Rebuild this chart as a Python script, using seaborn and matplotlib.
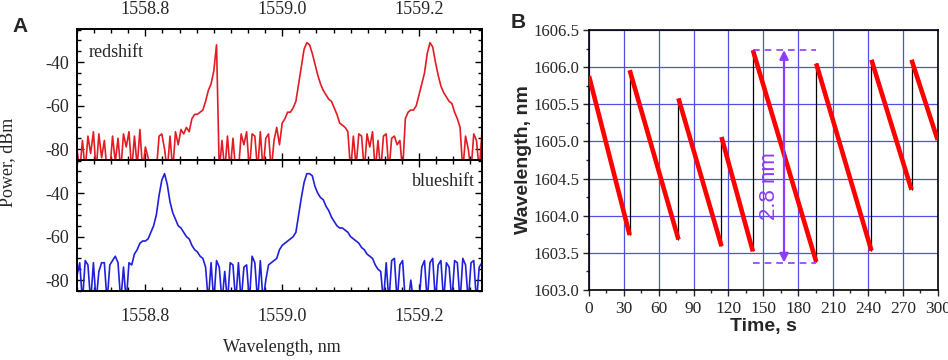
import numpy as np
import pandas as pd
import matplotlib
matplotlib.use("Agg")
import matplotlib.pyplot as plt
import seaborn as sns
from matplotlib.ticker import MultipleLocator, FuncFormatter

# --- panel A: optical spectra (sampled every 0.004 nm from 1558.700 nm) ---
wl_start = 1558.700
wl_step = 0.004
# values below -85 dBm fall under the axis (noise spikes)
red_power = [
    -80, -90, -76, -90, -74, -82, -72, -90, -73, -84,
    -76, -90, -90, -74, -86, -75, -90, -73, -79, -72,
    -90, -74, -88, -71, -90, -79, -84, -90, -90, -90,
    -74, -73, -80, -90, -74, -90, -72, -78, -71, -73,
    -70, -72, -66, -64, -64, -63, -62, -58, -53, -50,
    -44, -32, -90, -76, -90, -74, -90, -75, -90, -90,
    -73, -78, -72, -90, -73, -74, -90, -72, -90, -75,
    -73, -90, -76, -70, -78, -68, -66, -63, -63, -61,
    -58, -50, -42, -34, -31, -32, -36, -41, -46, -50,
    -53, -55, -57, -58, -61, -64, -68, -69, -70, -72,
    -90, -74, -88, -73, -74, -90, -73, -79, -72, -90,
    -76, -90, -74, -73, -90, -75, -74, -78, -76, -90,
    -66, -63, -62, -62, -60, -55, -50, -45, -36, -31,
    -33, -40, -46, -51, -54, -56, -58, -59, -63, -66,
    -70, -90, -74, -80, -90, -73, -76, -90, -72, -74,
]
blue_power = [
    -78, -72, -90, -71, -73, -90, -72, -90, -76, -72,
    -72, -90, -73, -71, -69, -72, -90, -74, -90, -72,
    -73, -68, -66, -63, -62, -62, -61, -58, -55, -50,
    -41, -34, -31, -36, -44, -49, -52, -55, -56, -58,
    -60, -61, -64, -66, -67, -69, -70, -74, -90, -72,
    -90, -71, -74, -90, -76, -90, -72, -73, -90, -72,
    -90, -74, -73, -90, -69, -72, -90, -71, -90, -80,
    -73, -72, -71, -70, -66, -64, -63, -62, -61, -60,
    -58, -50, -42, -35, -31, -31, -32, -37, -40, -42,
    -43, -46, -48, -51, -53, -55, -56, -56, -57, -58,
    -60, -61, -62, -63, -65, -66, -68, -69, -70, -73,
    -75, -76, -90, -72, -90, -71, -70, -90, -73, -71,
    -90, -90, -80, -90, -90, -90, -74, -71, -90, -72,
    -70, -90, -73, -71, -90, -72, -74, -90, -71, -72,
    -90, -70, -73, -90, -72, -71, -90, -74, -72, -90,
]
a_xticks = [1558.8, 1559.0, 1559.2]
a_yticks = [-80, -60, -40]

# --- panel B: wavelength sweep segments ---
seg_t_start = [0, 35, 77, 114, 141, 195.5, 243, 277.5]
seg_t_end = [35, 77, 114, 141, 195.5, 243, 277.5, 300]
seg_wl_start = [1605.88, 1605.96, 1605.58, 1605.06, 1606.23, 1606.05, 1606.10, 1606.10]
seg_wl_end = [1603.74, 1603.68, 1603.59, 1603.52, 1603.38, 1603.53, 1604.35, 1605.02]
span_top = 1606.23
span_bottom = 1603.37
span_time = 167.8
span_label = "2.8 nm"

sns.set_style("ticks")
plt.rcParams['font.family'] = ['Liberation Serif', 'DejaVu Serif']
plt.rcParams['axes.unicode_minus'] = False

RED_A = '#e31b23'
BLUE_A = '#2020dc'
VIOLET = '#8c3cff'
GRID = '#5050e0'

fig = plt.figure(figsize=(9.48, 3.6), dpi=100)
ax_top = fig.add_axes([0.0812, 0.5556, 0.4272, 0.3639])
ax_bot = fig.add_axes([0.0812, 0.1917, 0.4272, 0.3639])
ax_b = fig.add_axes([0.6213, 0.1944, 0.3678, 0.7222])

# spectra
n = len(red_power)
wavelength = [round(wl_start + wl_step * i, 3) for i in range(n)]
spec = pd.DataFrame({'wavelength': wavelength, 'red': red_power, 'blue': blue_power})

sns.lineplot(data=spec, x='wavelength', y='red', ax=ax_top, color=RED_A,
             lw=1.2, estimator=None, sort=False)
sns.lineplot(data=spec, x='wavelength', y='blue', ax=ax_bot, color=BLUE_A,
             lw=1.2, estimator=None, sort=False)

fmt_int = FuncFormatter(lambda v, p: f"{v:.0f}")
for ax in (ax_top, ax_bot):
    ax.set_xlim(1558.700, 1559.292)
    ax.set_ylim(-85, -24.7)
    ax.set_xticks(a_xticks)
    ax.xaxis.set_major_formatter(FuncFormatter(lambda v, p: f"{v:.1f}"))
    ax.xaxis.set_minor_locator(MultipleLocator(0.025))
    ax.set_yticks(a_yticks)
    ax.yaxis.set_major_formatter(fmt_int)
    ax.yaxis.set_minor_locator(MultipleLocator(5))
    ax.tick_params(which='both', direction='in', top=True, right=True,
                   labelsize=13, width=1.0, color='black')
    ax.tick_params(which='major', length=5)
    ax.tick_params(which='minor', length=3)
    ax.tick_params(axis='y', pad=6)
    ax.set_xlabel('')
    ax.set_ylabel('')
    for sp in ax.spines.values():
        sp.set_linewidth(1.4)
        sp.set_color('black')
ax_top.tick_params(axis='x', labelbottom=False, labeltop=True, pad=8)
ax_bot.tick_params(axis='x', labelbottom=True, labeltop=False, pad=12)

ax_top.text(0.03, 0.824, 'redshift', transform=ax_top.transAxes,
            fontsize=13, ha='left', va='center')
ax_bot.text(0.983, 0.832, 'blueshift', transform=ax_bot.transAxes,
            fontsize=13, ha='right', va='center')

fig.text(8 / 948, 1 - 162 / 360, 'Power, dBm', rotation=90, fontsize=13,
         ha='center', va='center')
fig.text(282 / 948, 1 - 348 / 360, 'Wavelength, nm', fontsize=13,
         ha='center', va='center')

# sawtooth
rows = []
for k in range(len(seg_t_start)):
    rows.append({'time': seg_t_start[k], 'wl': seg_wl_start[k], 'seg': k})
    rows.append({'time': seg_t_end[k], 'wl': seg_wl_end[k], 'seg': k})
saw = pd.DataFrame(rows)

ax_b.set_axisbelow(True)
ax_b.grid(True, which='major', color=GRID, lw=0.9)
ax_b.vlines(seg_t_end[:-1], seg_wl_end[:-1], seg_wl_start[1:], color='black',
            lw=0.9, zorder=2)
sns.lineplot(data=saw, x='time', y='wl', units='seg', estimator=None, sort=False,
             color='#ff0000', lw=3.3, ax=ax_b, zorder=3, solid_capstyle='butt')

ax_b.hlines([span_top, span_bottom], seg_t_start[4], seg_t_end[4], color=VIOLET,
            lw=1.2, linestyles=(0, (4, 3)), zorder=4)
ax_b.annotate('', xy=(span_time, span_top), xytext=(span_time, span_bottom),
              arrowprops=dict(arrowstyle='<|-|>', color=VIOLET, lw=1.6,
                              mutation_scale=13, shrinkA=0, shrinkB=0), zorder=5)
ax_b.text(155.7, 1604.40, span_label, rotation=90, color=VIOLET, fontsize=16,
          family=['Liberation Sans', 'DejaVu Sans'], ha='center', va='center')

ax_b.set_xlim(0, 300)
ax_b.set_ylim(1603.0, 1606.5)
ax_b.xaxis.set_major_locator(MultipleLocator(30))
ax_b.xaxis.set_minor_locator(MultipleLocator(15))
ax_b.yaxis.set_major_locator(MultipleLocator(0.5))
ax_b.yaxis.set_minor_locator(MultipleLocator(0.25))
ax_b.yaxis.set_major_formatter(FuncFormatter(lambda v, p: f"{v:.1f}"))
ax_b.tick_params(which='both', direction='out', labelsize=12.5, width=1.0)
ax_b.tick_params(axis='y', labelsize=12)
ax_b.tick_params(which='major', length=4)
ax_b.tick_params(which='minor', length=2.5)
ax_b.tick_params(axis='y', pad=3)
ax_b.tick_params(axis='x', pad=4)
ax_b.set_xlabel('')
ax_b.set_ylabel('')
for sp in ax_b.spines.values():
    sp.set_visible(True)
    sp.set_linewidth(1.2)
    sp.set_color('black')

fig.text(523 / 948, 1 - 160 / 360, 'Wavelength, nm', rotation=90, fontsize=14,
         fontweight='bold', family=['Liberation Sans', 'DejaVu Sans'],
         ha='center', va='center')
fig.text(763 / 948, 1 - 327 / 360, 'Time, s', fontsize=14, fontweight='bold',
         family=['Liberation Sans', 'DejaVu Sans'], ha='center', va='center')

# panel letters
fig.text(20 / 948, 1 - 26 / 360, 'A', fontsize=15, fontweight='bold',
         family=['Liberation Sans', 'DejaVu Sans'], ha='center', va='center')
fig.text(518 / 948, 1 - 22 / 360, 'B', fontsize=15, fontweight='bold',
         family=['Liberation Sans', 'DejaVu Sans'], ha='center', va='center')

fig.savefig('out.png', dpi=100)
